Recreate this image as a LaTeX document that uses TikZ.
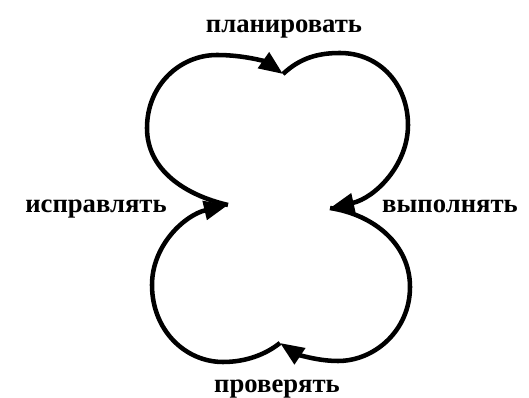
\documentclass[tikz,border=0pt]{standalone}
\usepackage{fontspec}
\setmainfont{Liberation Serif}
\usetikzlibrary{arrows.meta}
\begin{document}
\begin{tikzpicture}[x=0.75pt,y=-0.75pt,
  cyc/.style={line width=3.4pt,-{Triangle[length=18pt,width=14pt]}},
  lbl/.style={font=\bfseries\fontsize{20}{24}\selectfont,anchor=base,inner sep=0pt}]
\useasboundingbox (0,0) rectangle (529,398);
\coordinate (L) at (228,205);
\coordinate (T) at (283,74);
\coordinate (R) at (330,208);
\coordinate (B) at (280,343);
% upper-left
\draw[cyc] (L) .. controls (185,195) and (147,170) .. (147,128)
  .. controls (147,85) and (180,55) .. (217,55)
  .. controls (245,55) and (266,62) .. (T);
% upper-right
\draw[cyc] (T) .. controls (300,58) and (318,53) .. (340,53)
  .. controls (380,53) and (408,85) .. (408,125)
  .. controls (408,165) and (375,198) .. (R);
% lower-right
\draw[cyc] (R) .. controls (375,215) and (410,245) .. (410,287)
  .. controls (410,330) and (375,361) .. (338,361)
  .. controls (315,361) and (295,353) .. (B);
% lower-left
\draw[cyc] (B) .. controls (265,355) and (245,362) .. (223,362)
  .. controls (185,362) and (152,330) .. (152,285)
  .. controls (152,245) and (185,215) .. (L);
\node[lbl] (plan) at (284,33) {планировать};
\node[lbl] (act) at (96,213) {исправлять};
\node[lbl] (do) at (450,213) {выполнять};
\node[lbl] (check) at (277,393) {проверять};
\end{tikzpicture}
\end{document}
